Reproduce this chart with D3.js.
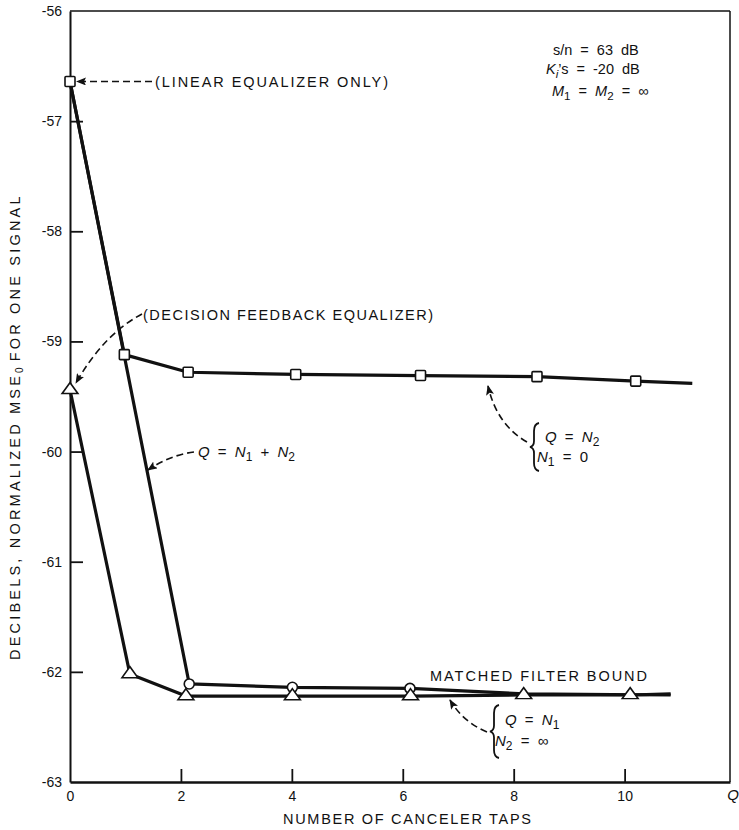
<!DOCTYPE html>
<html>
<head>
<meta charset="utf-8">
<script src="https://cdn.jsdelivr.net/npm/d3@7"></script>
<style>
  html, body { margin: 0; padding: 0; background: #fff; }
  svg { display: block; }
  text { font-family: "Liberation Sans", Arial, Helvetica, sans-serif; fill: #111; }
</style>
</head>
<body>
<script>
// Canceler performance: normalized MSE versus number of canceler taps
const xTicks = [0, 2, 4, 6, 8, 10];
const yTicks = [-56, -57, -58, -59, -60, -61, -62, -63];

// Q = N2, N1 = 0 (squares); last point is the line end, unmarked
const squareX = [0, 0.98, 2.13, 4.07, 6.32, 8.42, 10.2, 11.22];
const squareY = [-56.64, -59.12, -59.28, -59.30, -59.31, -59.32, -59.36, -59.38];
const squareMarked = 7;

// Q = N1 + N2 (circles); starts at the linear-equalizer point
const circleX = [0, 2.15, 4.01, 6.13, 8.18, 10.83];
const circleY = [-56.64, -62.11, -62.14, -62.15, -62.20, -62.21];
const circleMarkedFrom = 1, circleMarkedTo = 4;

// Q = N1, N2 = infinity (triangles); starts at the decision-feedback point
const triX = [0, 1.08, 2.09, 4.01, 6.14, 8.18, 10.1, 10.83];
const triY = [-59.44, -62.02, -62.22, -62.22, -62.22, -62.21, -62.21, -62.20];
const triMarked = 7;

const W = 739, H = 830;
const svg = d3.select("body").append("svg").attr("width", W).attr("height", H);

const x = d3.scaleLinear().domain([0, 11.9]).range([70, 730]);
const y = d3.scaleLinear().domain([-63, -56]).range([782, 11]);

// arrowhead
svg.append("defs").append("marker")
  .attr("id", "head").attr("viewBox", "0 0 10 8")
  .attr("refX", 9).attr("refY", 4)
  .attr("markerWidth", 10).attr("markerHeight", 8)
  .attr("markerUnits", "userSpaceOnUse")
  .attr("orient", "auto")
  .append("path").attr("d", "M0,0 L10,4 L0,8 L2,4 Z").attr("fill", "#111");

// frame
const [x0, x1] = x.range();
const [yb, yt] = y.range();
svg.append("line").attr("x1", x0).attr("x2", x1).attr("y1", yt).attr("y2", yt)
  .attr("stroke", "#111").attr("stroke-width", 1.5);
svg.append("line").attr("x1", x1).attr("x2", x1).attr("y1", yt).attr("y2", yb)
  .attr("stroke", "#111").attr("stroke-width", 1.5);

// axes with inward ticks
const yAxis = d3.axisLeft(y).tickValues(yTicks).tickFormat(d => String(d))
  .tickSizeInner(-13).tickSizeOuter(0).tickPadding(8);
const gy = svg.append("g").attr("transform", `translate(${x0},0)`).call(yAxis);
gy.select(".domain").attr("stroke", "#111").attr("stroke-width", 2);
gy.selectAll(".tick line").attr("stroke", "#111").attr("stroke-width", 1.8);
gy.selectAll(".tick text").attr("font-size", 14).attr("font-family", null).attr("fill", "#111");
gy.selectAll(".tick").filter(d => d === -56 || d === -63).select("line").remove();

const xAxis = d3.axisBottom(x).tickValues(xTicks).tickFormat(d => String(d))
  .tickSizeInner(-13).tickSizeOuter(0).tickPadding(9);
const gx = svg.append("g").attr("transform", `translate(0,${yb})`).call(xAxis);
gx.select(".domain").attr("stroke", "#111").attr("stroke-width", 2.5);
gx.selectAll(".tick line").attr("stroke", "#111").attr("stroke-width", 1.8);
gx.selectAll(".tick text").attr("font-size", 14).attr("font-family", null).attr("fill", "#111");
gx.selectAll(".tick").filter(d => d === 0).select("line").remove();

svg.append("text").attr("x", x1 + 3).attr("y", yb + 18).attr("text-anchor", "middle")
  .attr("font-size", 15).attr("font-style", "italic").text("Q");

// axis titles
svg.append("text").attr("x", 283).attr("y", 824)
  .attr("font-size", 14.5).attr("textLength", 248).attr("lengthAdjust", "spacing")
  .text("NUMBER OF CANCELER TAPS");

const yt0 = svg.append("text").attr("transform", "translate(20,660) rotate(-90)")
  .attr("font-size", 14.5).attr("letter-spacing", "3.2px");
yt0.append("tspan").text("DECIBELS, NORMALIZED MSE");
yt0.append("tspan").attr("font-size", 10).attr("dy", 3).attr("letter-spacing", "0px").text("0");
yt0.append("tspan").attr("dy", -3).attr("dx", 6).text("FOR ONE SIGNAL");

// series lines
const line = d3.line().x(d => x(d[0])).y(d => y(d[1]));
const pts = (xs, ys) => xs.map((v, i) => [v, ys[i]]);
const sq = pts(squareX, squareY), ci = pts(circleX, circleY), tr = pts(triX, triY);

[ci, tr, sq].forEach(p => {
  svg.append("path").attr("d", line(p)).attr("fill", "none")
    .attr("stroke", "#111").attr("stroke-width", 3.2).attr("stroke-linejoin", "round");
});

// markers
svg.selectAll(".sq").data(sq.slice(0, squareMarked)).join("rect")
  .attr("x", d => x(d[0]) - 5).attr("y", d => y(d[1]) - 5)
  .attr("width", 10).attr("height", 10).attr("rx", 1)
  .attr("fill", "#fff").attr("stroke", "#111").attr("stroke-width", 1.6);

svg.selectAll(".ci").data(ci.slice(circleMarkedFrom, circleMarkedTo)).join("circle")
  .attr("cx", d => x(d[0])).attr("cy", d => y(d[1])).attr("r", 5)
  .attr("fill", "#fff").attr("stroke", "#111").attr("stroke-width", 1.6);

const tri = d3.symbol().type(d3.symbolTriangle).size(70);
svg.selectAll(".tr").data(tr.slice(0, triMarked)).join("path")
  .attr("d", tri)
  .attr("transform", d => `translate(${x(d[0])},${y(d[1])}) scale(1.25,1)`)
  .attr("fill", "#fff").attr("stroke", "#111").attr("stroke-width", 1.4);

// annotations
const dashed = (d) => svg.append("path").attr("d", d).attr("fill", "none")
  .attr("stroke", "#111").attr("stroke-width", 1.6).attr("stroke-dasharray", "7,4")
  .attr("marker-end", "url(#head)");

const lin = [x(squareX[0]), y(squareY[0])];
dashed(`M152,${lin[1]} L${lin[0] + 7},${lin[1]}`);
svg.append("text").attr("x", 155).attr("y", lin[1] + 6).attr("font-size", 14.5)
  .attr("textLength", 233).attr("lengthAdjust", "spacing").text("(LINEAR EQUALIZER ONLY)");

const dfe = [x(triX[0]), y(triY[0])];
dashed(`M142,314 Q104,334 ${dfe[0] + 6},${dfe[1] - 7}`);
svg.append("text").attr("x", 143).attr("y", 320).attr("font-size", 14.5)
  .attr("textLength", 290).attr("lengthAdjust", "spacing").text("(DECISION FEEDBACK EQUALIZER)");

svg.append("text").attr("x", 430).attr("y", 681).attr("font-size", 14.5)
  .attr("textLength", 217).attr("lengthAdjust", "spacing").text("MATCHED FILTER BOUND");

// math label helper: parts = [text, italic?, sub?]
function mathText(xp, yp, parts, size) {
  const fs = size || 15;
  const t = svg.append("text").attr("x", xp).attr("y", yp).attr("font-size", fs)
    .attr("word-spacing", "4px").style("white-space", "pre");
  let shifted = false;
  parts.forEach(([s, it, sub]) => {
    const sp = t.append("tspan").text(s);
    if (it) sp.attr("font-style", "italic");
    if (sub && !shifted) { sp.attr("dy", 4).attr("font-size", fs * 0.8); shifted = true; }
    else if (!sub && shifted) { sp.attr("dy", -4); shifted = false; }
    else if (sub) sp.attr("font-size", fs * 0.8);
  });
  return t;
}

mathText(198, 457, [["Q", 1], [" = ", 0], ["N", 1], ["1", 0, 1], [" + ", 0], ["N", 1], ["2", 0, 1]]);
dashed("M194,452 Q170,455 148,470");

function brace(xb, top, bot) {
  const m = (top + bot) / 2;
  svg.append("path")
    .attr("d", `M${xb + 5},${top} Q${xb},${top + 1} ${xb},${top + 8} L${xb},${m - 6} Q${xb},${m - 1} ${xb - 4},${m}` +
               ` Q${xb},${m + 1} ${xb},${m + 6} L${xb},${bot - 8} Q${xb},${bot - 1} ${xb + 5},${bot}`)
    .attr("fill", "none").attr("stroke", "#111").attr("stroke-width", 1.8);
}

brace(534, 423, 471);
mathText(545, 442, [["Q", 1], [" = ", 0], ["N", 1], ["2", 0, 1]]);
mathText(537, 462, [["N", 1], ["1", 0, 1], [" = 0", 0]]);
dashed("M527,442 Q497,425 488,386");

brace(494, 705, 758);
mathText(505, 725, [["Q", 1], [" = ", 0], ["N", 1], ["1", 0, 1]]);
mathText(495, 746, [["N", 1], ["2", 0, 1], [" = ∞", 0]]);
dashed("M487,732 Q463,722 450,700");

// operating conditions
mathText(553, 55, [["s/n = 63 dB", 0]], 14.5);
mathText(546, 74, [["K", 1], ["i", 1, 1], ["’s = -20 dB", 0]], 14.5);
mathText(552, 96, [["M", 1], ["1", 0, 1], [" = ", 0], ["M", 1], ["2", 0, 1], [" = ∞", 0]], 14.5);
</script>
</body>
</html>
